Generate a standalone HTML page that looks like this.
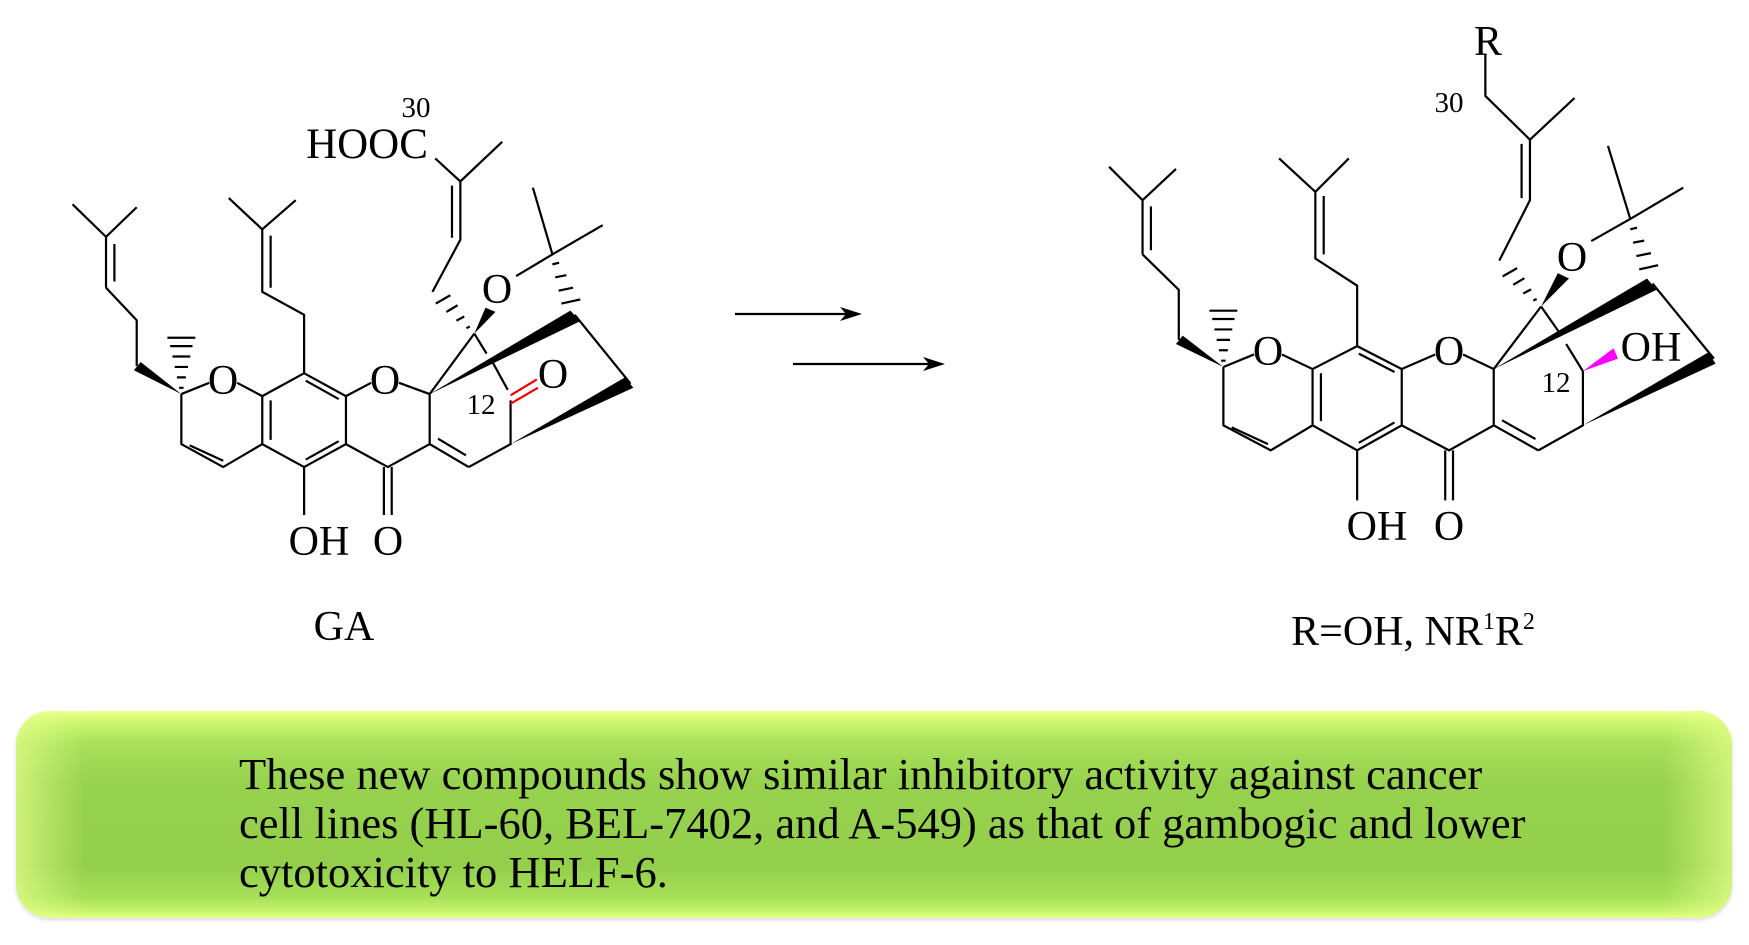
<!DOCTYPE html>
<html><head><meta charset="utf-8"><style>
html,body{margin:0;padding:0;background:#fff;}
body{width:1749px;height:945px;position:relative;overflow:hidden;font-family:"Liberation Serif",serif;}
#box{position:absolute;left:16px;top:711px;width:1716px;height:207px;border-radius:34px;
background:linear-gradient(to bottom,#eeff8c 0%,#c8f56a 6%,#a8e05a 16%,#97d24f 35%,#94cf4c 75%,#a6e058 90%,#c9f56c 97%,#e6ff8a 100%);
box-shadow:0 2px 4px rgba(0,0,0,0.15);}
#box:before{content:"";position:absolute;left:0;top:0;right:0;bottom:0;border-radius:34px;
background:linear-gradient(to right,rgba(230,255,140,0.7) 0%,rgba(230,255,140,0) 4%,rgba(230,255,140,0) 96%,rgba(230,255,140,0.7) 100%);}
#txt{position:absolute;left:239px;top:750px;font-size:44.5px;line-height:49px;color:#000;white-space:nowrap;}
svg{position:absolute;left:0;top:0;}
</style></head><body>
<div id="box"></div>
<div id="txt">These new compounds show similar inhibitory activity against cancer<br>cell lines (HL-60, BEL-7402, and A-549) as that of gambogic and lower<br>cytotoxicity to HELF-6.</div>
<svg width="1749" height="700" viewBox="0 0 1749 700">
<g transform="scale(0.558,0.417)" fill="none" stroke="#000" stroke-width="2.2">
<path vector-effect="non-scaling-stroke" d="M130 490 L190 568 L245 497 M190 568 L190 690 M205 585 L205 675 M190 690 L245 768 L245 878
M325 945 L375 918 M425 918 L470 950 L470 1065 L400 1120 L325 1065 L325 945 M340 1068 L400 1105 M485 960 L485 1055
M470 950 L545 895 L620 950 L620 1065 L545 1120 L470 1065 M548 913 L607 957 M607 1058 L548 1102
M620 950 L665 918 M715 918 L770 945 L770 1065 L695 1120 L620 1065 M688 1120 L688 1235 M702 1120 L702 1235
M770 1065 L840 1120 M785 1052 L835 1092 M840 1120 L915 1065 L915 960
M850 800 L872 848 M880 862 L910 935 M770 945 L850 800 M1030 755 L1130 920
M990 610 L955 450 M990 610 L1080 540 M990 610 L925 662
M775 700 L825 575 L825 435 L900 340 M810 570 L810 445 M825 435 L780 380
M545 895 L545 755 L470 700 L470 550 L410 475 M470 550 L530 480 M485 690 L485 565 M545 1120 L545 1235
M321 930 H329 M317 905 H333 M313 880 H337 M309 855 H341 M305 830 H345 M300 810 H350
M990 634 L1002 630 M995 665 L1015 660 M1001 697 L1027 690 M1006 728 L1040 718
M836 787 L842 783 M818 769 L832 759 M800 748 L820 732 M781 728 L807 708"/>
<path vector-effect="non-scaling-stroke" stroke="#e00" d="M915 948 L962 910 M915 968 L964 930"/>
<g fill="#000" stroke="none">
<polygon points="325,945 240,888 252,868"/>
<polygon points="770,945 1022,745 1040,770"/>
<polygon points="915,1065 1120,905 1135,930"/>
<polygon points="850,800 870,738 888,748"/>
</g>
</g>
<g transform="translate(875,0) scale(0.5574,0.417)" fill="none" stroke="#000">
<path vector-effect="non-scaling-stroke" stroke-width="2.2" d="M420 400 L480 480 L540 405 M480 480 L480 610 M495 495 L495 600 M480 610 L545 695 L545 815
M625 880 L680 850 M730 850 L785 885 L785 1020 L710 1080 L625 1020 L625 880 M640 1025 L705 1065 M800 895 L800 1010
M785 885 L865 830 L945 885 L945 1020 L865 1080 L785 1020 M868 848 L932 892 M932 1013 L868 1062
M945 885 L1005 850 M1055 850 L1110 885 L1110 1020 L1030 1080 L945 1020 M1023 1080 L1023 1200 M1037 1080 L1037 1200
M1110 1020 L1190 1080 M1125 1008 L1185 1053 M1190 1080 L1270 1020 L1270 890
M1270 890 L1240 825 M1228 798 L1195 735 M1110 885 L1195 735 M1395 680 L1505 860
M1355 525 L1315 350 M1355 525 L1450 450 M1355 525 L1285 578
M1120 625 L1175 480 L1175 335 L1255 235 M1160 475 L1160 345 M1175 335 L1095 230 L1095 130
M865 830 L865 685 L790 620 L790 460 L725 380 M790 460 L850 380 M805 610 L805 470 M865 1080 L865 1200
M621 865 H629 M617 840 H633 M613 815 H637 M609 790 H641 M605 765 H645 M600 745 H650
M1355 550 L1367 546 M1360 582 L1380 577 M1366 614 L1392 607 M1371 646 L1405 636
M1181 721 L1187 717 M1163 704 L1177 694 M1145 683 L1165 667 M1126 663 L1152 643"/>
<g fill="#000" stroke="none">
<polygon points="625,880 540,825 552,805"/>
<polygon points="1110,885 1385,668 1402,695"/>
<polygon points="1270,1020 1495,845 1508,872"/>
<polygon points="1195,735 1225,655 1245,668"/>
<polygon fill="#ff00ff" points="1270,890 1325,835 1333,860"/>
</g>
</g>
<g stroke="#000" stroke-width="2.2" fill="#000">
<line x1="735" y1="314" x2="848" y2="314"/><polygon stroke="none" points="862,314 840,307 846,314 840,321"/>
<line x1="793" y1="364" x2="930" y2="364"/><polygon stroke="none" points="945,364 923,357 929,364 923,371"/>
</g>
<g font-family="Liberation Serif, serif" fill="#000" text-anchor="middle">
<text x="367" y="158" font-size="43">HOOC</text>
<text x="416" y="117" font-size="29">30</text>
<text x="223" y="394" font-size="42">O</text>
<text x="385" y="394" font-size="42">O</text>
<text x="497" y="303" font-size="42">O</text>
<text x="553" y="388" font-size="42">O</text>
<text x="481" y="414" font-size="29">12</text>
<text x="319" y="555" font-size="42">OH</text>
<text x="388" y="555" font-size="42">O</text>
<text x="344" y="640" font-size="42">GA</text>
<text x="1488" y="55" font-size="42">R</text>
<text x="1449" y="112" font-size="29">30</text>
<text x="1268" y="365" font-size="42">O</text>
<text x="1449" y="365" font-size="42">O</text>
<text x="1572" y="271" font-size="42">O</text>
<text x="1651" y="361" font-size="42">OH</text>
<text x="1556" y="392" font-size="29">12</text>
<text x="1377" y="540" font-size="42">OH</text>
<text x="1449" y="540" font-size="42">O</text>
<text x="1413" y="645" font-size="42">R=OH, NR<tspan font-size="24" dy="-16">1</tspan><tspan dy="16">R</tspan><tspan font-size="24" dy="-16">2</tspan></text>
</g>
</svg>
</body></html>
